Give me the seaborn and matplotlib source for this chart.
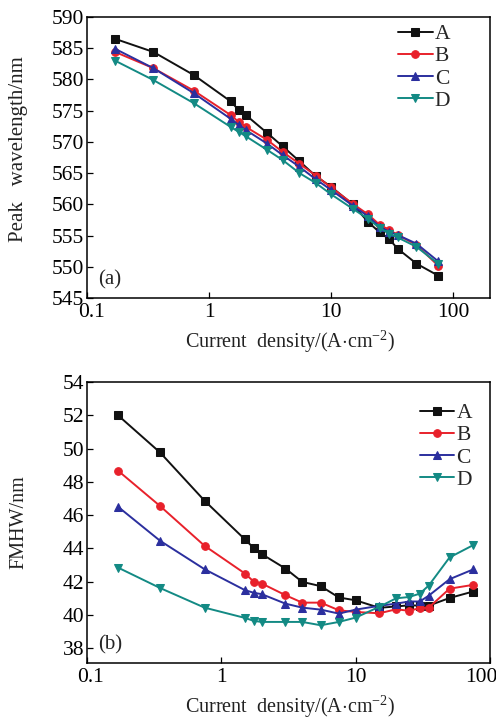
import matplotlib
matplotlib.use("Agg")
import matplotlib.pyplot as plt
import matplotlib.transforms as mtransforms
import seaborn as sns
import pandas as pd
import numpy as np

# ---- data ----
current_density = [0.17, 0.35, 0.75, 1.5, 1.75, 2, 3, 4, 5.5, 7.5, 10, 15, 20, 25, 30, 35, 50, 75]

peak_A = [586.5, 584.4, 580.7, 576.5, 575.1, 574.3, 571.4, 569.3, 566.9, 564.5, 562.8, 560.0, 557.2, 555.5, 554.4, 552.9, 550.5, 548.6]
peak_B = [584.4, 581.8, 578.2, 574.3, 573.2, 572.4, 570.3, 568.4, 566.5, 564.6, 562.7, 560.1, 558.4, 556.7, 555.9, 555.1, 553.5, 550.2]
peak_C = [584.9, 581.8, 577.8, 573.7, 572.7, 571.9, 569.7, 567.9, 566.0, 564.0, 562.3, 559.8, 558.1, 556.4, 555.6, 555.1, 553.7, 550.9]
peak_D = [583.0, 579.9, 576.2, 572.4, 571.6, 570.9, 568.7, 567.1, 565.0, 563.4, 561.6, 559.3, 557.7, 556.2, 555.3, 554.7, 553.2, 550.5]

fwhm_A = [52.0, 49.76, 46.86, 44.53, 44.0, 43.65, 42.78, 41.98, 41.72, 41.04, 40.87, 40.42, 40.5, 40.57, 40.55, 40.55, 41.01, 41.4]
fwhm_B = [48.67, 46.54, 44.15, 42.48, 41.98, 41.88, 41.18, 40.73, 40.73, 40.27, 40.17, 40.09, 40.33, 40.24, 40.4, 40.43, 41.57, 41.8]
fwhm_C = [46.5, 44.45, 42.74, 41.48, 41.32, 41.24, 40.67, 40.43, 40.31, 40.07, 40.31, 40.54, 40.67, 40.8, 40.8, 41.15, 42.14, 42.73]
fwhm_D = [42.84, 41.61, 40.43, 39.81, 39.63, 39.57, 39.57, 39.57, 39.37, 39.57, 39.83, 40.48, 40.99, 41.07, 41.27, 41.76, 43.45, 44.19]

samples = ["A", "B", "C", "D"]
colors = {"A": "#111111", "B": "#e8212b", "C": "#2b2f9e", "D": "#138a84"}
markers = {"A": "s", "B": "o", "C": "^", "D": "v"}

peak_ticks = [545, 550, 555, 560, 565, 570, 575, 580, 585, 590]
fwhm_ticks = [38, 40, 42, 44, 46, 48, 50, 52, 54]
x_ticks = [0.1, 1, 10, 100]
x_ticklabels = ["0.1", "1", "10", "100"]

peak_df = pd.DataFrame({
    "J": current_density * 4,
    "val": peak_A + peak_B + peak_C + peak_D,
    "sample": sum([[s] * len(current_density) for s in samples], []),
})
fwhm_df = pd.DataFrame({
    "J": current_density * 4,
    "val": fwhm_A + fwhm_B + fwhm_C + fwhm_D,
    "sample": sum([[s] * len(current_density) for s in samples], []),
})

sns.set_theme(style="white")
plt.rcParams["font.family"] = ["Liberation Serif", "DejaVu Serif"]
plt.rcParams["mathtext.fontset"] = "custom"
plt.rcParams["mathtext.rm"] = "Liberation Serif"

fig = plt.figure(figsize=(4.96, 7.19), dpi=100)
ax1 = fig.add_axes([87 / 496, 1 - 298 / 719, 403 / 496, 281 / 719])
ax2 = fig.add_axes([87 / 496, 1 - 663 / 719, 403 / 496, 281 / 719])

TICK_FS = 15.5
LABEL_FS = 14

def draw(ax, df, last_shift):
    for s in samples:
        sub = df[df["sample"] == s]
        sns.lineplot(data=sub, x="J", y="val", ax=ax, color=colors[s], marker=markers[s],
                     markersize=5.5, markeredgecolor=colors[s], linewidth=1.4, label=s)
    ax.set_xscale("log")
    for sp in ax.spines.values():
        sp.set_color("black")
        sp.set_linewidth(1.1)
    ax.tick_params(axis="both", which="major", direction="in", length=4, width=0.9,
                   labelsize=TICK_FS, colors="black", left=True, bottom=True)
    ax.tick_params(axis="x", which="major", pad=3.5)
    ax.tick_params(axis="y", which="major", pad=2)
    ax.tick_params(axis="both", which="minor", length=0)
    ax.set_xticks(x_ticks)
    ax.set_xticklabels(x_ticklabels)
    labs = ax.get_xticklabels()
    labs[0].set_transform(labs[0].get_transform() +
                          mtransforms.ScaledTranslation(4 / 100, 0, fig.dpi_scale_trans))
    labs[-1].set_transform(labs[-1].get_transform() +
                           mtransforms.ScaledTranslation(last_shift / 100, 0, fig.dpi_scale_trans))
    ax.set_xlabel("Current  density/(A$\\cdot$cm$^{-2}$)", fontsize=LABEL_FS + 0.5, color="#222222")
    ax.xaxis.set_label_coords(0.505, -0.108)

draw(ax1, peak_df, 0)
ax1.set_xlim(0.1, 200)
ax1.set_ylim(545, 590)
ax1.set_yticks(peak_ticks)
ax1.set_ylabel("Peak   wavelength/nm", fontsize=LABEL_FS + 1, color="#222222")
ax1.yaxis.set_label_coords(-0.146, 0.53)
ax1.legend(loc="upper left", bbox_to_anchor=(0.772, 0.975), frameon=False, fontsize=TICK_FS,
           handlelength=1.6, handletextpad=0.1, labelspacing=0.1, borderaxespad=0.0, borderpad=0.0)
ax1.text(0.028, 0.03, "(a)", transform=ax1.transAxes, fontsize=15, ha="left", va="bottom")

draw(ax2, fwhm_df, -9)
ax2.set_xlim(0.1, 100)
ax2.set_ylim(37.1, 54)
ax2.set_yticks(fwhm_ticks)
ax2.set_ylabel("FMHW/nm", fontsize=LABEL_FS + 0.5, color="#222222")
ax2.yaxis.set_label_coords(-0.146, 0.5)
ax2.legend(loc="upper left", bbox_to_anchor=(0.826, 0.925), frameon=False, fontsize=TICK_FS,
           handlelength=1.6, handletextpad=0.1, labelspacing=0.1, borderaxespad=0.0, borderpad=0.0)
ax2.text(0.028, 0.03, "(b)", transform=ax2.transAxes, fontsize=15, ha="left", va="bottom")

fig.savefig("out.png", dpi=100, facecolor="white")
